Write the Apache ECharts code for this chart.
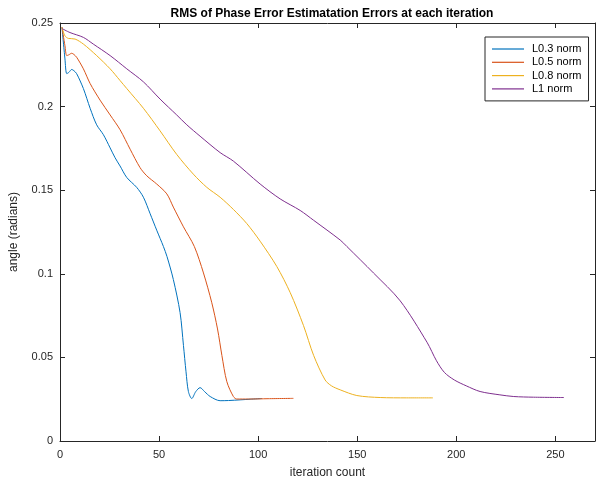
<!DOCTYPE html>
<html>
<head>
<meta charset="utf-8">
<title>RMS of Phase Error Estimation</title>
<script src="https://cdn.jsdelivr.net/npm/echarts@6/dist/echarts.min.js"></script>
<style>
  html, body { margin: 0; padding: 0; background: #fff; }
  #chart { width: 609px; height: 484px; }
</style>
</head>
<body>
<div id="chart"></div>
<script>
// Series names and axis ticks
const seriesNames = ['L0.3 norm', 'L0.5 norm', 'L0.8 norm', 'L1 norm'];
const xTicks = [0, 50, 100, 150, 200, 250];
const yTicks = [0, 0.05, 0.1, 0.15, 0.2, 0.25];

// L0.3 norm: iteration, RMS error (radians)
const iterL03 = [1, 2.5, 3.4, 4.5, 5.9, 7, 8.4, 11.8, 15.2, 18.5, 21.9, 25.3, 27.8, 30.3, 33.7, 38.7, 42.1, 45.5, 48.8, 52.2, 54, 57.2, 60.6, 62.3, 63.6, 64.8, 66.5, 68.5, 70.7, 73, 75.8, 80.8, 85, 90.9, 96, 101.9];
const rmsL03  = [0.2475, 0.2285, 0.2197, 0.2205, 0.2222, 0.2215, 0.2197, 0.2108, 0.199, 0.1891, 0.1832, 0.1753, 0.1694, 0.1645, 0.1576, 0.1517, 0.1458, 0.1359, 0.1261, 0.1163, 0.1103, 0.0966, 0.0768, 0.0572, 0.0414, 0.0296, 0.0254, 0.0295, 0.0319, 0.0295, 0.0266, 0.0241, 0.0242, 0.0246, 0.025, 0.0254];

// L0.5 norm
const iterL05 = [1, 2.5, 3.4, 4.5, 5.9, 7, 8.4, 11.8, 15.2, 20.2, 25.3, 30.3, 35.4, 40.4, 43.8, 48.8, 53.9, 57.2, 62.3, 67.8, 72.4, 76.6, 79.5, 81.7, 84.2, 87.5, 89.2, 95, 105, 117.8];
const rmsL05  = [0.2475, 0.2364, 0.2305, 0.231, 0.2319, 0.2312, 0.2295, 0.2226, 0.2138, 0.2039, 0.195, 0.1862, 0.1745, 0.1635, 0.1586, 0.1537, 0.1478, 0.1399, 0.1281, 0.1163, 0.1005, 0.0827, 0.067, 0.0512, 0.0355, 0.0266, 0.0251, 0.0251, 0.0253, 0.0255];

// L0.8 norm
const iterL08 = [1, 2.5, 4.2, 7.6, 11.8, 18.5, 25.3, 30.3, 33.7, 42.1, 50.5, 58.9, 67.3, 74.1, 80.8, 87.5, 94.3, 101, 109.4, 116.2, 122.9, 128, 133.8, 137, 141.4, 149.8, 161.6, 175, 188.2];
const rmsL08  = [0.2475, 0.2423, 0.2408, 0.2404, 0.2374, 0.2305, 0.2226, 0.2156, 0.2108, 0.199, 0.1855, 0.1714, 0.1596, 0.1517, 0.1458, 0.1385, 0.13, 0.1195, 0.1044, 0.0887, 0.069, 0.0512, 0.0365, 0.033, 0.0306, 0.0272, 0.026, 0.0258, 0.0258];

// L1 norm
const iterL1 = [1, 5, 11.8, 16.8, 25.3, 33.7, 42.1, 50.5, 58.9, 64, 70.7, 80.8, 87.5, 101, 111.1, 121.2, 128, 141.4, 144.8, 158.2, 171.7, 185.2, 190, 194, 199, 205, 212, 222, 229, 239, 254.3];
const rmsL1  = [0.2467, 0.2443, 0.2414, 0.2374, 0.2305, 0.2226, 0.2148, 0.2045, 0.195, 0.1891, 0.1823, 0.1725, 0.1674, 0.1537, 0.1448, 0.1379, 0.132, 0.1202, 0.1163, 0.1005, 0.0838, 0.0591, 0.048, 0.041, 0.0365, 0.033, 0.0296, 0.0276, 0.0266, 0.0262, 0.026];

const colors = ['#0072BD', '#D95319', '#EDB120', '#7E2F8E'];

function pairs(xs, ys) {
  return xs.map((x, i) => [x, ys[i]]);
}

const chart = echarts.init(document.getElementById('chart'), null, { renderer: 'canvas' });
const fontFamily = '"Liberation Sans", Arial, Helvetica, sans-serif';
const axisColor = '#262626';

const baseX = {
  type: 'value', min: 0, max: 270, interval: 50,
  axisLine: { show: true, onZero: false, lineStyle: { color: axisColor, width: 1 } },
  axisTick: { show: true, inside: true, length: 5, lineStyle: { color: axisColor } },
  splitLine: { show: false }
};
const baseY = {
  type: 'value', min: 0, max: 0.25, interval: 0.05,
  axisLine: { show: true, onZero: false, lineStyle: { color: axisColor, width: 1 } },
  axisTick: { show: true, inside: true, length: 5, lineStyle: { color: axisColor } },
  splitLine: { show: false }
};

const allSeries = [[iterL03, rmsL03], [iterL05, rmsL05], [iterL08, rmsL08], [iterL1, rmsL1]];

chart.setOption({
  animation: false,
  color: colors,
  title: {
    text: 'RMS of Phase Error Estimatation Errors at each iteration',
    left: 327, top: 3, textAlign: 'center',
    textStyle: { fontFamily, fontSize: 12, fontWeight: 'bold', color: '#000' }
  },
  grid: { left: 60, right: 14, top: 23, bottom: 37 },
  legend: {
    orient: 'vertical',
    left: 485, top: 37,
    padding: [6, 7, 6, 7],
    icon: 'rect',
    itemWidth: 32, itemHeight: 1.2, itemGap: 1.3,
    borderColor: axisColor, borderWidth: 1, backgroundColor: '#fff',
    textStyle: { fontFamily, fontSize: 11, lineHeight: 12, color: '#000', padding: [0, 0, 0, 3] },
    data: seriesNames
  },
  xAxis: [
    Object.assign({}, baseX, {
      position: 'bottom',
      axisLabel: {
        margin: 8, color: axisColor, fontFamily, fontSize: 11,
        formatter: v => (xTicks.includes(v) ? String(v) : '')
      },
      name: 'iteration count', nameLocation: 'middle', nameGap: 26,
      nameTextStyle: { fontFamily, fontSize: 12, color: axisColor }
    }),
    Object.assign({}, baseX, { position: 'top', axisLabel: { show: false } })
  ],
  yAxis: [
    Object.assign({}, baseY, {
      position: 'left',
      axisLabel: {
        margin: 7, color: axisColor, fontFamily, fontSize: 11,
        formatter: v => {
          const t = yTicks.find(k => Math.abs(k - v) < 1e-9);
          return t === undefined ? '' : String(+t.toFixed(2));
        }
      },
      name: 'angle (radians)', nameLocation: 'middle', nameGap: 40,
      nameTextStyle: { fontFamily, fontSize: 12, color: axisColor }
    }),
    Object.assign({}, baseY, { position: 'right', axisLabel: { show: false } })
  ],
  series: allSeries.map((s, i) => ({
    name: seriesNames[i],
    type: 'line',
    xAxisIndex: 0, yAxisIndex: 0,
    data: pairs(s[0], s[1]),
    symbol: 'none',
    smooth: 0.3,
    lineStyle: { width: 1, color: colors[i] },
    itemStyle: { color: colors[i] }
  }))
});
</script>
</body>
</html>
